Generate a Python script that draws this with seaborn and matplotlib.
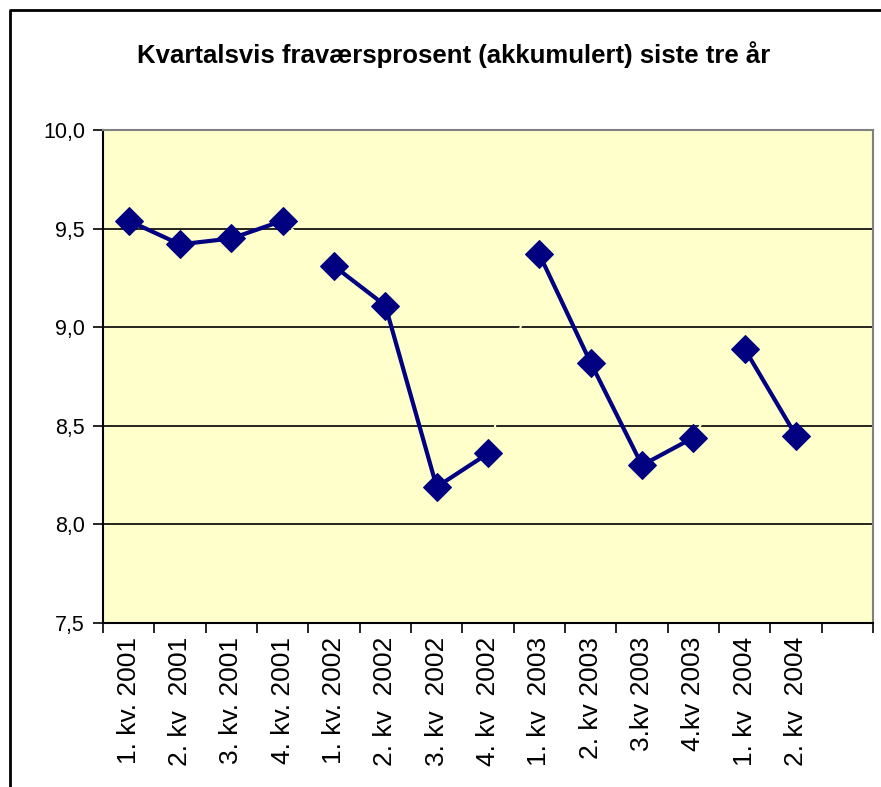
import matplotlib
matplotlib.use("Agg")
import matplotlib.pyplot as plt
import seaborn as sns
import pandas as pd
from matplotlib.lines import Line2D
from matplotlib.ticker import FixedLocator, FuncFormatter

categories = ["1. kv. 2001", "2. kv  2001", "3. kv. 2001", "4. kv. 2001",
              "1. kv. 2002", "2. kv  2002", "3. kv  2002", "4. kv  2002",
              "1. kv  2003", "2. kv 2003", "3.kv 2003", "4.kv 2003",
              "1. kv  2004", "2. kv  2004"]
values = [9.54, 9.42, 9.45, 9.54,
          9.31, 9.11, 8.19, 8.36,
          9.37, 8.82, 8.30, 8.44,
          8.89, 8.45]
years = ["2001"] * 4 + ["2002"] * 4 + ["2003"] * 4 + ["2004"] * 2
title = "Kvartalsvis fraværsprosent (akkumulert) siste tre år"

df = pd.DataFrame({"pos": range(len(values)), "value": values, "year": years, "label": categories})

sns.set_style("white")
plt.rcParams["font.family"] = ["Liberation Sans", "DejaVu Sans"]
plt.rcParams["text.color"] = "black"
plt.rcParams["xtick.color"] = "black"
plt.rcParams["ytick.color"] = "black"
plt.rcParams["xtick.labelcolor"] = "black"
plt.rcParams["ytick.labelcolor"] = "black"

BG = "#FFFFCC"
fig = plt.figure(figsize=(8.81, 7.87), dpi=100)
ax = fig.add_axes([103 / 881, 164 / 787, 770 / 881, 493 / 787])
ax.set_facecolor(BG)

# gridlines
for y in [8.0, 8.5, 9.0, 9.5]:
    ax.axhline(y, color="black", lw=1.2, zorder=1)

# background-coloured connecting line (only visible where it cuts gridlines)
sns.lineplot(data=df, x="pos", y="value", color=BG, lw=1.5, ax=ax,
             zorder=2, legend=False, estimator=None, sort=False)
# navy segments per year
sns.lineplot(data=df, x="pos", y="value", hue="year", palette=["#000080"] * 4,
             lw=3, marker="D", markersize=14, markeredgecolor="#000080",
             ax=ax, zorder=3, legend=False, estimator=None, sort=False)

ax.set_xlim(-0.5, 14.5)
ax.set_ylim(7.5, 10.0)
ax.set_xlabel("")
ax.set_ylabel("")

ax.set_yticks([7.5, 8.0, 8.5, 9.0, 9.5, 10.0])
ax.yaxis.set_major_formatter(FuncFormatter(lambda v, p: f"{v:.1f}".replace(".", ",")))
ax.tick_params(axis="y", labelsize=15.5, length=7, width=1.2, colors="black",
               direction="out", left=True, pad=6)

ax.set_xticks(list(range(len(categories))))
ax.set_xticklabels(categories, rotation=90, fontsize=19, color="black")
ax.xaxis.set_minor_locator(FixedLocator([i - 0.5 for i in range(16)]))
ax.tick_params(axis="x", which="major", length=0, pad=10, colors="black")
ax.tick_params(axis="x", which="minor", length=7, width=1.2, color="black",
               direction="out", bottom=True)

for side in ["left", "bottom"]:
    ax.spines[side].set_color("black")
    ax.spines[side].set_linewidth(1.5)
for side in ["top", "right"]:
    ax.spines[side].set_color("#808080")
    ax.spines[side].set_linewidth(1.5)
    ax.spines[side].set_visible(True)

fig.text(454 / 881, 1 - 55 / 787, title, ha="center", va="center",
         fontsize=18.5, fontweight="bold", color="black")

# outer frame (left and top only visible)
fig.add_artist(Line2D([9.5 / 881, 9.5 / 881, 1.0], [0.0, 1 - 10 / 787, 1 - 10 / 787],
                      transform=fig.transFigure, color="black", lw=2))

fig.savefig("out.png", dpi=100, facecolor="white")
